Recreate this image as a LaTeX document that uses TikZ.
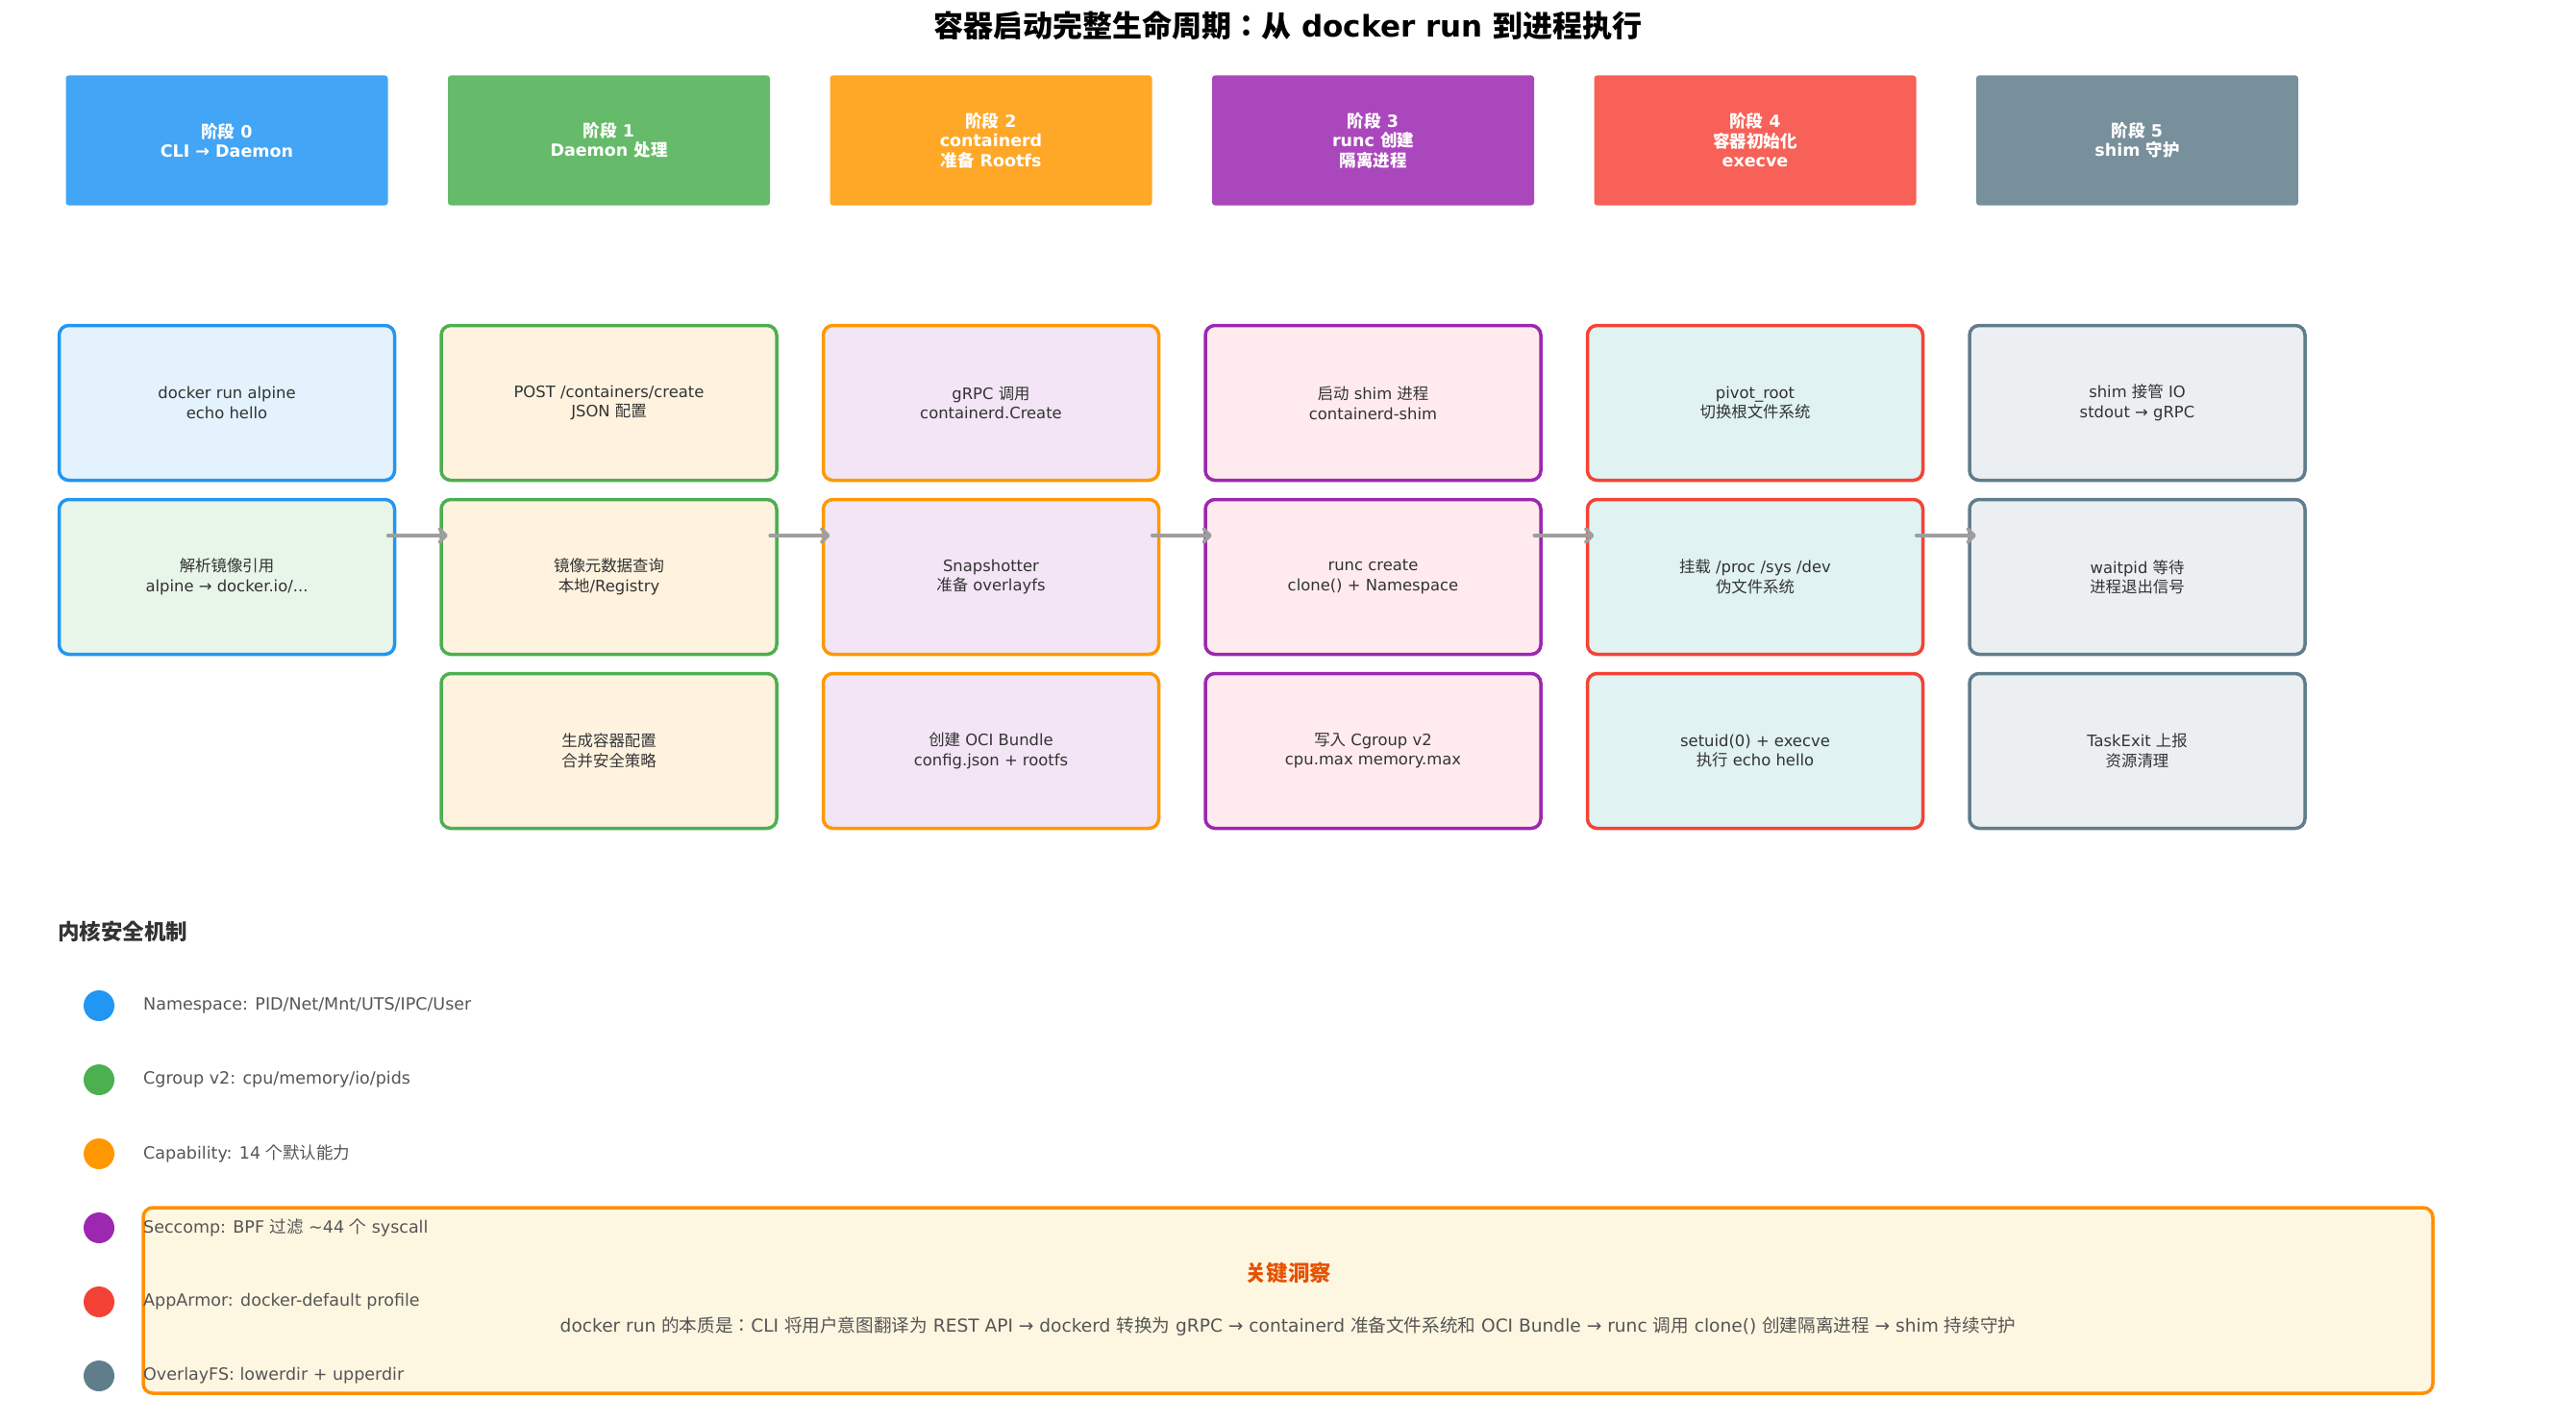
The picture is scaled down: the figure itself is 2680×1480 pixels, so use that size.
\documentclass[tikz,border=0pt]{standalone}
\usepackage{fontspec}
\setmainfont{DejaVu Sans}
\newfontfamily\cjkfont{Noto Sans CJK JP}
\usetikzlibrary{arrows.meta}
% automatic switch to the CJK font for CJK characters
\XeTeXinterchartokenstate=1
\newXeTeXintercharclass\CJKcls
\newcount\cjkcnt
\cjkcnt="4E00
\loop
  \XeTeXcharclass\cjkcnt=\CJKcls
  \advance\cjkcnt by 1
\ifnum\cjkcnt<"A000 \repeat
\cjkcnt="3000
\loop
  \XeTeXcharclass\cjkcnt=\CJKcls
  \advance\cjkcnt by 1
\ifnum\cjkcnt<"3040 \repeat
\cjkcnt="FF00
\loop
  \XeTeXcharclass\cjkcnt=\CJKcls
  \advance\cjkcnt by 1
\ifnum\cjkcnt<"FFF0 \repeat
\XeTeXinterchartoks 0 \CJKcls = {\cjkfont}
\XeTeXinterchartoks 4095 \CJKcls = {\cjkfont}
\XeTeXinterchartoks \CJKcls 0 = {\rmfamily}
\XeTeXinterchartoks \CJKcls 4095 = {\rmfamily}

\definecolor{hA}{HTML}{42A5F5}
\definecolor{hB}{HTML}{66BB6A}
\definecolor{hC}{HTML}{FFA726}
\definecolor{hD}{HTML}{AB47BC}
\definecolor{hE}{HTML}{F76157}
\definecolor{hF}{HTML}{78909C}
\definecolor{bA}{HTML}{2196F3}
\definecolor{bB}{HTML}{4CAF50}
\definecolor{bC}{HTML}{FF9800}
\definecolor{bD}{HTML}{9C27B0}
\definecolor{bE}{HTML}{F44336}
\definecolor{bF}{HTML}{607D8B}
\definecolor{fA}{HTML}{E3F2FD}
\definecolor{fB}{HTML}{E8F5E9}
\definecolor{fC}{HTML}{FFF3E0}
\definecolor{fD}{HTML}{F3E5F5}
\definecolor{fE}{HTML}{FFEBEE}
\definecolor{fF}{HTML}{E0F2F1}
\definecolor{fG}{HTML}{ECEFF1}
\definecolor{txtc}{HTML}{333333}
\definecolor{legc}{HTML}{555555}
\definecolor{arrowc}{HTML}{9E9E9E}
\definecolor{insb}{HTML}{FF8F00}
\definecolor{insf}{HTML}{FDF6E1}
\definecolor{inst}{HTML}{E65100}

\newcommand\titlefnt{\fontsize{31}{36}\selectfont\bfseries}
\newcommand\hdrfnt{\fontsize{17.5}{20.5}\selectfont\bfseries}
\newcommand\boxfnt{\fontsize{16.4}{20.5}\selectfont}
\newcommand\legfnt{\fontsize{17.5}{21}\selectfont}
\newcommand\secfnt{\fontsize{22.5}{26}\selectfont\bfseries}
\newcommand\insfnt{\fontsize{18.6}{22}\selectfont}

\tikzset{
  hdr/.style={rectangle, rounded corners=3pt, minimum width=335pt, minimum height=135pt,
    text=white, font=\hdrfnt, align=center, inner sep=0pt},
  stepbox/.style={rectangle, rounded corners=10pt, line width=3.5pt, minimum width=349pt,
    minimum height=161pt, align=center, text=txtc, font=\boxfnt, inner sep=0pt},
  flow/.style={draw=arrowc, line width=3.5pt, line cap=round,
    -{Straight Barb[length=7pt,width=14pt,round]}},
  dot/.style={circle, minimum size=32pt, inner sep=0pt},
  legtext/.style={anchor=west, font=\legfnt, text=legc, inner sep=0pt}
}

\begin{document}
\begin{tikzpicture}[x=1pt,y=-1pt]
\useasboundingbox (0,0) rectangle (2680,1480);

\node[font=\titlefnt, text=black] (title) at (1340,27) {容器启动完整生命周期：从 docker run 到进程执行};

% stage headers
\node[hdr, fill=hA] (h0) at (236,146) {阶段 0\\CLI → Daemon};
\node[hdr, fill=hB] (h1) at (633.5,146) {阶段 1\\Daemon 处理};
\node[hdr, fill=hC] (h2) at (1031,146) {阶段 2\\containerd\\准备 Rootfs};
\node[hdr, fill=hD] (h3) at (1428.5,146) {阶段 3\\runc 创建\\隔离进程};
\node[hdr, fill=hE] (h4) at (1826,146) {阶段 4\\容器初始化\\execve};
\node[hdr, fill=hF] (h5) at (2223.5,146) {阶段 5\\shim 守护};

% step boxes
\node[stepbox, draw=bA, fill=fA] (s01) at (236,419) {docker run alpine\\echo hello};
\node[stepbox, draw=bA, fill=fB] (s02) at (236,600) {解析镜像引用\\alpine → docker.io/...};

\node[stepbox, draw=bB, fill=fC] (s11) at (633.5,419) {POST /containers/create\\JSON 配置};
\node[stepbox, draw=bB, fill=fC] (s12) at (633.5,600) {镜像元数据查询\\本地/Registry};
\node[stepbox, draw=bB, fill=fC] (s13) at (633.5,781) {生成容器配置\\合并安全策略};

\node[stepbox, draw=bC, fill=fD] (s21) at (1031,419) {gRPC 调用\\containerd.Create};
\node[stepbox, draw=bC, fill=fD] (s22) at (1031,600) {Snapshotter\\准备 overlayfs};
\node[stepbox, draw=bC, fill=fD] (s23) at (1031,781) {创建 OCI Bundle\\config.json + rootfs};

\node[stepbox, draw=bD, fill=fE] (s31) at (1428.5,419) {启动 shim 进程\\containerd-shim};
\node[stepbox, draw=bD, fill=fE] (s32) at (1428.5,600) {runc create\\clone() + Namespace};
\node[stepbox, draw=bD, fill=fE] (s33) at (1428.5,781) {写入 Cgroup v2\\cpu.max memory.max};

\node[stepbox, draw=bE, fill=fF] (s41) at (1826,419) {pivot\_root\\切换根文件系统};
\node[stepbox, draw=bE, fill=fF] (s42) at (1826,600) {挂载 /proc /sys /dev\\伪文件系统};
\node[stepbox, draw=bE, fill=fF] (s43) at (1826,781) {setuid(0) + execve\\执行 echo hello};

\node[stepbox, draw=bF, fill=fG] (s51) at (2223.5,419) {shim 接管 IO\\stdout → gRPC};
\node[stepbox, draw=bF, fill=fG] (s52) at (2223.5,600) {waitpid 等待\\进程退出信号};
\node[stepbox, draw=bF, fill=fG] (s53) at (2223.5,781) {TaskExit 上报\\资源清理};

% flow arrows
\coordinate (ay) at (0,557);
\draw[flow] (h0.east |- ay) -- (h1.west |- ay);
\draw[flow] (h1.east |- ay) -- (h2.west |- ay);
\draw[flow] (h2.east |- ay) -- (h3.west |- ay);
\draw[flow] (h3.east |- ay) -- (h4.west |- ay);
\draw[flow] (h4.east |- ay) -- (h5.west |- ay);

% insight box (drawn beneath the legend)
\node[rectangle, draw=insb, fill=insf, line width=3.5pt, rounded corners=10pt,
  minimum width=2382pt, minimum height=193pt, inner sep=0pt] (ins) at (1340,1352.5) {};
\node[font=\secfnt, text=inst] (institle) at (1340,1324) {关键洞察};
\node[font=\insfnt, text=legc] (instext) at (1340,1380) {docker run 的本质是：CLI 将用户意图翻译为 REST API → dockerd 转换为 gRPC → containerd 准备文件系统和 OCI Bundle → runc 调用 clone() 创建隔离进程 → shim 持续守护};

% legend
\node[font=\secfnt, text=txtc, anchor=west, inner sep=0pt] (sec) at (60,969) {内核安全机制};
\node[dot, fill=bA] (d1) at (103,1046) {};
\node[dot, fill=bB] (d2) at (103,1123) {};
\node[dot, fill=bC] (d3) at (103,1200) {};
\node[dot, fill=bD] (d4) at (103,1277) {};
\node[dot, fill=bE] (d5) at (103,1354) {};
\node[dot, fill=bF] (d6) at (103,1431) {};
\node[legtext] (l1) at (149,1046) {Namespace: PID/Net/Mnt/UTS/IPC/User};
\node[legtext] (l2) at (149,1123) {Cgroup v2: cpu/memory/io/pids};
\node[legtext] (l3) at (149,1200) {Capability: 14 个默认能力};
\node[legtext] (l4) at (149,1277) {Seccomp: BPF 过滤 \textasciitilde44 个 syscall};
\node[legtext] (l5) at (149,1354) {AppArmor: docker-default profile};
\node[legtext] (l6) at (149,1431) {OverlayFS: lowerdir + upperdir};
\end{tikzpicture}
\end{document}
